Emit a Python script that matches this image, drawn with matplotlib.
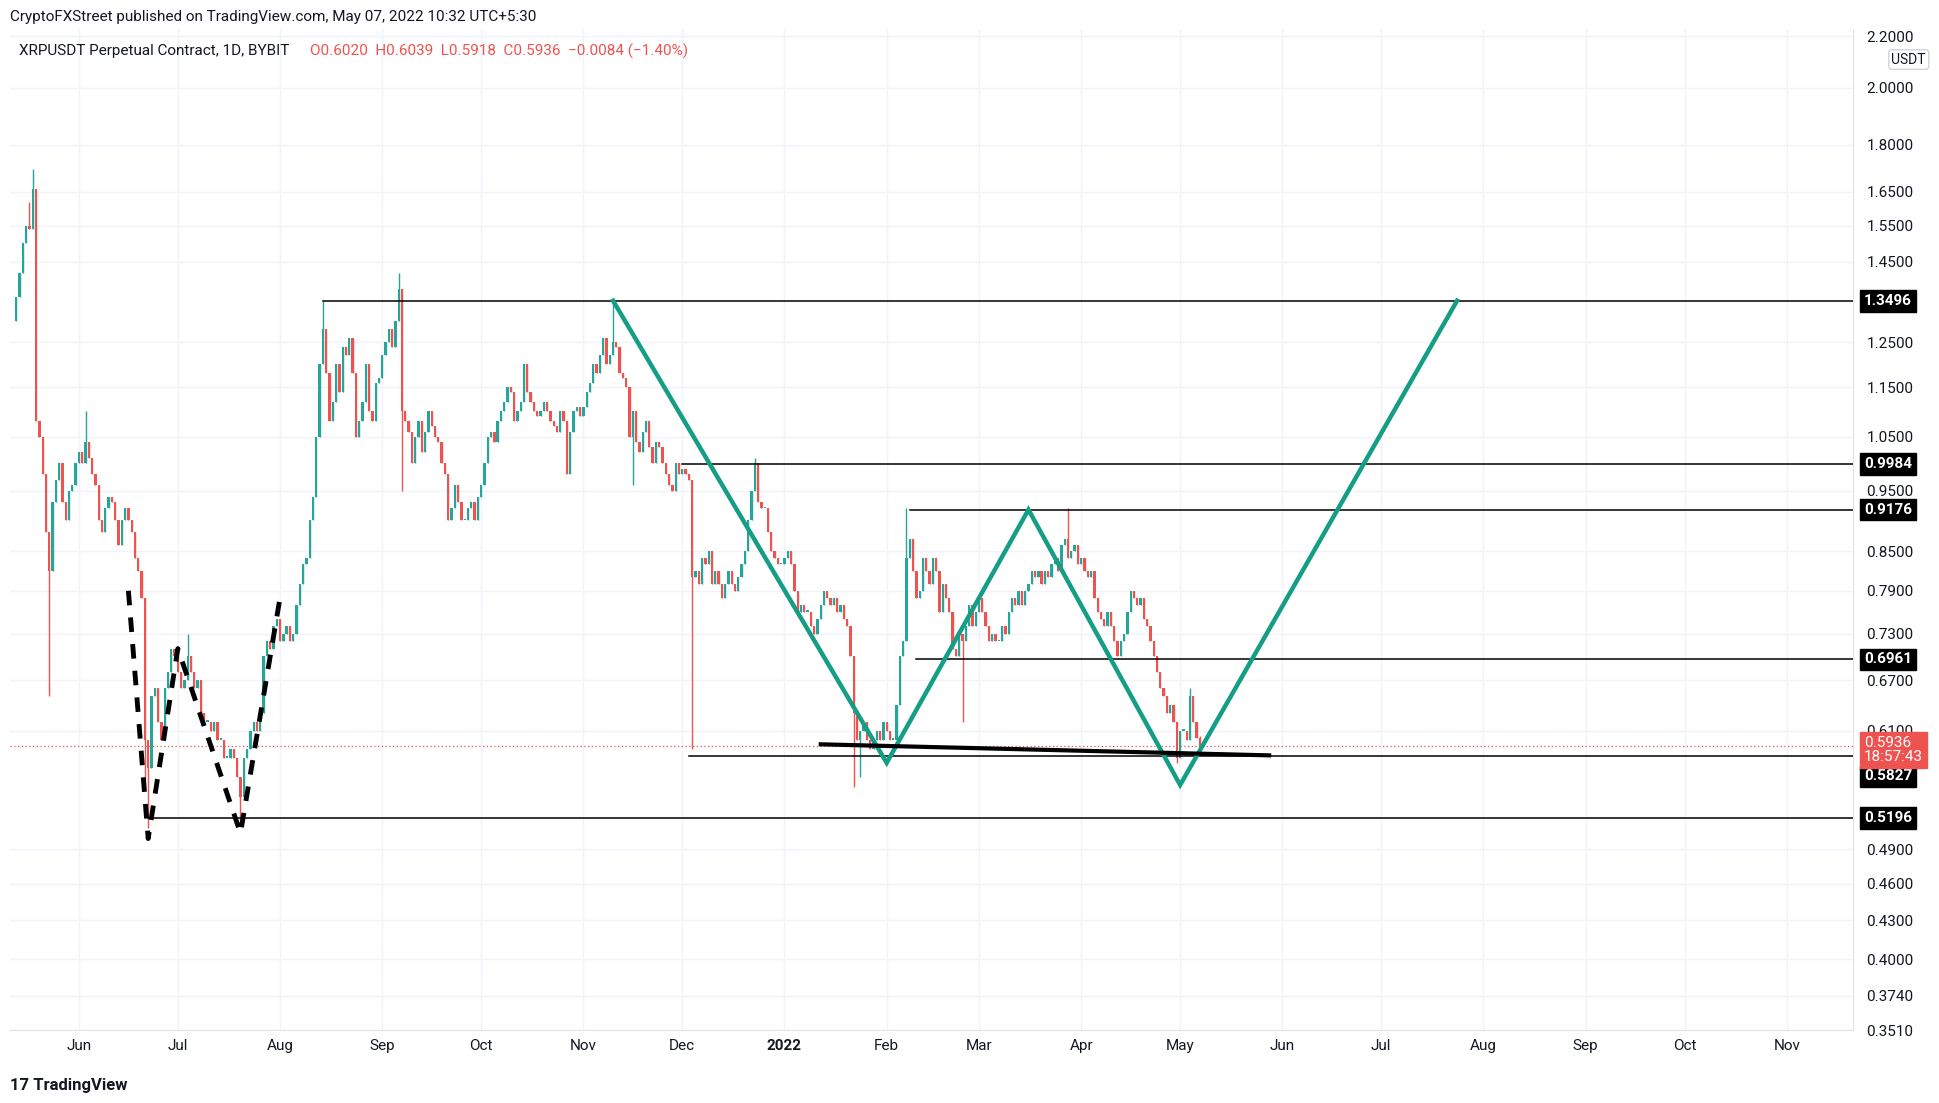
import numpy as np
import matplotlib
matplotlib.use("Agg")
import matplotlib.pyplot as plt
import matplotlib.dates as mdates
from datetime import date, timedelta

plt.rcParams["font.family"] = "Roboto"

# ---------------- data ----------------
start_day = date(2021, 5, 13)
close_may21 = [1.36,1.42,1.50,1.55,1.54,1.66,1.08,1.05,0.98,0.88,0.82,0.93,0.97,1.00,0.93,0.90,0.95,0.96,1.00]
close_jun21 = [1.02,1.00,1.04,1.01,0.98,0.96,0.90,0.88,0.92,0.94,0.93,0.90,0.86,0.90,0.92,0.90,0.88,0.84,0.82,0.78,0.60,0.57,0.65,0.66,0.62,0.60,0.66,0.68,0.71,0.70]
close_jul21 = [0.68,0.66,0.67,0.70,0.68,0.66,0.67,0.63,0.62,0.62,0.61,0.62,0.60,0.60,0.58,0.58,0.59,0.58,0.56,0.54,0.58,0.59,0.61,0.62,0.61,0.63,0.70,0.72,0.71,0.74,0.75]
close_aug21 = [0.72,0.73,0.74,0.72,0.73,0.77,0.80,0.83,0.84,0.90,0.94,1.05,1.20,1.28,1.18,1.08,1.12,1.20,1.14,1.24,1.22,1.26,1.18,1.05,1.08,1.12,1.20,1.10,1.08,1.16,1.17]
close_sep21 = [1.22,1.25,1.28,1.24,1.30,1.38,1.10,1.08,1.06,1.00,1.05,1.08,1.02,1.06,1.10,1.07,1.05,1.04,1.00,0.98,0.90,0.92,0.96,0.93,0.90,0.90,0.92,0.93,0.90,0.94]
close_oct21 = [0.96,1.00,1.05,1.06,1.04,1.08,1.10,1.12,1.15,1.14,1.08,1.10,1.12,1.20,1.14,1.12,1.10,1.09,1.10,1.12,1.10,1.08,1.07,1.06,1.10,1.08,0.98,1.06,1.10,1.11,1.09]
close_nov21 = [1.11,1.14,1.16,1.20,1.18,1.22,1.26,1.20,1.22,1.25,1.24,1.18,1.17,1.15,1.05,1.10,1.04,1.02,1.06,1.08,1.03,1.00,1.04,1.03,1.00,0.98,0.96,0.95,1.00,0.98]
close_dec21 = [0.99,0.98,0.97,0.81,0.82,0.80,0.84,0.83,0.85,0.80,0.82,0.80,0.78,0.80,0.82,0.80,0.79,0.81,0.83,0.85,0.90,0.95,1.00,0.93,0.92,0.92,0.88,0.85,0.84,0.83,0.83]
close_jan22 = [0.84,0.85,0.83,0.79,0.76,0.77,0.76,0.76,0.74,0.73,0.75,0.77,0.79,0.78,0.77,0.78,0.76,0.77,0.75,0.74,0.70,0.63,0.60,0.61,0.62,0.60,0.59,0.60,0.61,0.60,0.62]
close_feb22 = [0.61,0.60,0.60,0.64,0.70,0.72,0.84,0.87,0.82,0.78,0.79,0.84,0.82,0.80,0.84,0.82,0.76,0.80,0.78,0.76,0.71,0.70,0.73,0.72,0.74,0.77,0.74,0.76]
close_mar22 = [0.78,0.76,0.74,0.72,0.73,0.72,0.72,0.74,0.73,0.76,0.78,0.77,0.79,0.77,0.79,0.80,0.82,0.81,0.82,0.80,0.82,0.81,0.83,0.84,0.82,0.86,0.87,0.84,0.85,0.86,0.83]
close_apr22 = [0.84,0.82,0.81,0.82,0.78,0.76,0.75,0.74,0.76,0.74,0.72,0.70,0.72,0.73,0.76,0.79,0.78,0.77,0.78,0.75,0.74,0.72,0.70,0.68,0.66,0.65,0.63,0.64,0.62,0.58]
close_may22 = [0.61,0.61,0.60,0.65,0.62,0.6020,0.5936]
first_open = 1.30

# explicit wick extremes (date -> price)
wick_high = {"2021-05-18": 1.72, "2021-05-17": 1.62, "2021-06-03": 1.10, "2021-09-06": 1.42,
             "2021-08-14": 1.35, "2021-11-10": 1.35, "2021-12-23": 1.01, "2022-02-07": 0.92,
             "2022-03-28": 0.92, "2022-05-04": 0.66, "2022-05-07": 0.6039, "2021-07-04": 0.73}
wick_low = {"2021-05-23": 0.65, "2021-06-22": 0.51, "2021-07-20": 0.515, "2021-09-07": 0.95,
            "2021-12-04": 0.59, "2022-01-22": 0.55, "2022-01-24": 0.56, "2022-02-24": 0.62,
            "2021-11-16": 0.96, "2022-04-30": 0.575, "2022-05-07": 0.5918, "2021-06-21": 0.55}

levels = [(1.3496, "2021-08-14"), (0.9984, "2021-12-01"), (0.9176, "2022-02-08"),
          (0.6961, "2022-02-10"), (0.5827, "2021-12-03"), (0.5196, "2021-06-22")]
level_label_offsets = [0, 0, 0, 0, -15, 0]
zig_dates = ["2021-11-10", "2022-02-01", "2022-03-16", "2022-05-01", "2022-07-24"]
zig_prices = [1.3496, 0.575, 0.9176, 0.552, 1.3496]
neck_dates = ["2022-01-12", "2022-05-28"]
neck_prices = [0.595, 0.583]
w_dates = ["2021-06-16", "2021-06-22", "2021-07-01", "2021-07-20", "2021-08-01"]
w_prices = [0.79, 0.50, 0.71, 0.505, 0.78]
last_price = 0.5936
ytick_vals = [2.2, 2.0, 1.8, 1.65, 1.55, 1.45, 1.25, 1.15, 1.05, 0.95, 0.85, 0.79, 0.73,
              0.67, 0.61, 0.49, 0.46, 0.43, 0.40, 0.374, 0.351]
month_ticks = ["2021-06-01","2021-07-01","2021-08-01","2021-09-01","2021-10-01","2021-11-01",
               "2021-12-01","2022-01-01","2022-02-01","2022-03-01","2022-04-01","2022-05-01",
               "2022-06-01","2022-07-01","2022-08-01","2022-09-01","2022-10-01","2022-11-01"]
month_labels = ["Jun","Jul","Aug","Sep","Oct","Nov","Dec","2022","Feb","Mar","Apr","May",
                "Jun","Jul","Aug","Sep","Oct","Nov"]

# ---------------- build ----------------
closes = np.array(close_may21 + close_jun21 + close_jul21 + close_aug21 + close_sep21 + close_oct21 +
                  close_nov21 + close_dec21 + close_jan22 + close_feb22 + close_mar22 + close_apr22 + close_may22)
opens = np.concatenate([[first_open], closes[:-1]])
days = [start_day + timedelta(days=i) for i in range(len(closes))]
x = mdates.date2num(days)
highs = np.maximum(opens, closes)
lows = np.minimum(opens, closes)
for i, d in enumerate(days):
    k = d.isoformat()
    if k in wick_high: highs[i] = max(highs[i], wick_high[k])
    if k in wick_low: lows[i] = min(lows[i], wick_low[k])

def dn(s):
    return mdates.datestr2num(s)

UP, DOWN = "#26a69a", "#ef5350"
fig = plt.figure(figsize=(19.40, 11.03), dpi=100)
ax = fig.add_axes([0.005, 0.066, 0.950, 0.908])
ax.set_yscale("log")
xmin, xmax = dn("2021-05-11"), dn("2022-11-21")
ax.set_xlim(xmin, xmax)
ax.set_ylim(0.351, 2.23)

cols = np.where(closes >= opens, UP, DOWN)
ax.vlines(x, lows, highs, colors=cols, linewidth=1.0, zorder=3)
ax.bar(x, np.maximum(np.abs(closes - opens), 0.002), bottom=np.minimum(opens, closes),
       width=0.7, color=cols, zorder=4)

for p, s in levels:
    ax.plot([dn(s), xmax], [p, p], color="black", lw=1.1, zorder=5)
ax.axhline(last_price, color=DOWN, lw=0.9, ls=(0, (1, 2)), zorder=2)
ax.plot([dn(d) for d in zig_dates], zig_prices, color="#149e85", lw=3.2, zorder=6, solid_joinstyle="miter")
ax.plot([dn(d) for d in neck_dates], neck_prices, color="black", lw=3, zorder=6)
ax.plot([dn(d) for d in w_dates], w_prices, color="black", lw=3.5, ls=(0, (3, 2.5)), zorder=6)

ax.set_xticks([dn(d) for d in month_ticks])
ax.set_xticklabels(month_labels)
for t in ax.get_xticklabels():
    if t.get_text() == "2022":
        t.set_fontweight("bold")
ax.yaxis.tick_right()
ax.set_yticks(ytick_vals)
ax.set_yticklabels(["%.4f" % v for v in ytick_vals])
ax.yaxis.set_minor_locator(matplotlib.ticker.NullLocator())
ax.tick_params(axis="x", length=0, labelsize=11, colors="#131722", pad=6)
ax.tick_params(axis="y", length=0, labelsize=11, colors="#131722", pad=10)
ax.grid(True, color="#f0f3fa", lw=1)
for s in ["top", "left"]:
    ax.spines[s].set_visible(False)
ax.spines["right"].set_color("#e0e3eb")
ax.spines["bottom"].set_color("#e0e3eb")

for (p, _), off in zip(levels, level_label_offsets):
    ax.annotate("%.4f" % p, xy=(1.0, p), xycoords=("axes fraction", "data"), xytext=(8, off),
                textcoords="offset points", va="center", ha="left", color="white", fontsize=11,
                fontweight="bold", bbox=dict(boxstyle="square,pad=0.25", fc="black", ec="black"), zorder=10)
ax.annotate("%.4f\n18:57:43" % last_price, xy=(1.0, last_price), xycoords=("axes fraction", "data"),
            xytext=(8, -3), textcoords="offset points", va="center", ha="left", color="white", fontsize=11,
            linespacing=1.0, bbox=dict(boxstyle="square,pad=0.25", fc=DOWN, ec=DOWN), zorder=11)

fig.text(0.005, 0.985, "CryptoFXStreet published on TradingView.com, May 07, 2022 10:32 UTC+5:30",
         fontsize=11, color="#131722", va="center")
ax.text(0.005, 0.985, "XRPUSDT Perpetual Contract, 1D, BYBIT", transform=ax.transAxes, fontsize=11,
        color="#131722", va="top")
ax.text(0.163, 0.985, "O0.6020  H0.6039  L0.5918  C0.5936  −0.0084 (−1.40%)", transform=ax.transAxes,
        fontsize=11, color=DOWN, va="top")
fig.text(0.975, 0.946, "USDT", fontsize=10, color="#131722", va="center",
         bbox=dict(boxstyle="round,pad=0.2", fc="white", ec="#d1d4dc"))
fig.text(0.005, 0.012, "17 TradingView", fontsize=12, color="#131722", fontweight="bold")

fig.savefig("out.png", dpi=100, facecolor="white")
